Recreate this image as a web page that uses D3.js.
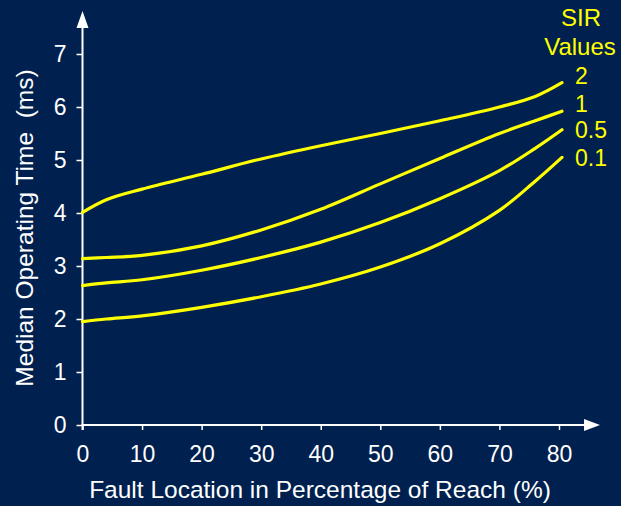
<!DOCTYPE html>
<html>
<head>
<meta charset="utf-8">
<script src="https://cdn.jsdelivr.net/npm/d3@7"></script>
<style>
  html, body { margin: 0; padding: 0; background: #00214f; }
  svg { display: block; }
  text { font-family: "Liberation Sans", Arial, sans-serif; }
</style>
</head>
<body>
<svg id="chart" width="621" height="506"></svg>
<script>
// ---- data ----
const faultLocation = [0, 4, 10, 20, 30, 40, 50, 60, 70, 76, 80.5];
const sir2  = [4.01, 4.25, 4.45, 4.73, 5.02, 5.27, 5.50, 5.74, 6.00, 6.20, 6.46];
const sir1  = [3.14, 3.16, 3.20, 3.38, 3.68, 4.07, 4.55, 5.03, 5.50, 5.74, 5.92];
const sir05 = [2.63, 2.68, 2.74, 2.92, 3.16, 3.45, 3.82, 4.27, 4.80, 5.22, 5.57];
const sir01 = [1.95, 2.00, 2.06, 2.22, 2.42, 2.66, 2.98, 3.42, 4.05, 4.60, 5.05];
const seriesNames = ["2", "1", "0.5", "0.1"];
const xTicks = [0, 10, 20, 30, 40, 50, 60, 70, 80];
const yTicks = [0, 1, 2, 3, 4, 5, 6, 7];
const xLabel = "Fault Location in Percentage of Reach (%)";
const yLabel = "Median Operating Time\u00a0 (ms)";
const legendTitle = ["SIR", "Values"];

// ---- layout ----
const svg = d3.select("#chart");
const W = 621, H = 506;
svg.append("rect").attr("width", W).attr("height", H).attr("fill", "#00214f");

const x = d3.scaleLinear().domain([0, 80]).range([82.5, 559]);
const y = d3.scaleLinear().domain([0, 7]).range([425, 54]);
const white = "#ffffff", yellow = "#ffff00";
const fontFam = '"Liberation Sans", Arial, sans-serif';

// axes
const xAxis = d3.axisBottom(x).tickValues(xTicks).tickSize(5).tickPadding(16).tickFormat(d3.format("d"));
const yAxis = d3.axisLeft(y).tickValues(yTicks).tickSize(6).tickPadding(10).tickFormat(d3.format("d"));

const gx = svg.append("g").attr("transform", `translate(0,${y(0)})`).call(xAxis);
const gy = svg.append("g").attr("transform", `translate(${x(0)},0)`).call(yAxis);

[gx, gy].forEach(g => {
  g.select(".domain").remove();
  g.selectAll(".tick line").attr("stroke", white).attr("stroke-width", 1.5);
  g.selectAll(".tick text").attr("fill", white).attr("font-size", 23)
    .attr("font-family", fontFam);
});

// axis lines with arrows
svg.append("line").attr("x1", x(0) - 1).attr("x2", 586).attr("y1", y(0)).attr("y2", y(0))
  .attr("stroke", white).attr("stroke-width", 2);
svg.append("path").attr("d", `M600,${y(0)} L584,${y(0) - 6} L584,${y(0) + 6} Z`).attr("fill", white);

svg.append("line").attr("x1", x(0)).attr("x2", x(0)).attr("y1", y(0) + 5).attr("y2", 26)
  .attr("stroke", white).attr("stroke-width", 2);
svg.append("path").attr("d", `M${x(0)},11 L${x(0) - 6},28 L${x(0) + 6},28 Z`).attr("fill", white);

// labels
svg.append("text").attr("x", 320).attr("y", 498).attr("text-anchor", "middle")
  .attr("fill", white).attr("font-size", 24.5).attr("font-family", fontFam).text(xLabel);
svg.append("text").attr("transform", "translate(33,228) rotate(-90)").attr("text-anchor", "middle")
  .attr("fill", white).attr("font-size", 24.5).attr("font-family", fontFam).text(yLabel);

// curves
const allSeries = [sir2, sir1, sir05, sir01];
const line = d3.line().x(d => x(d[0])).y(d => y(d[1])).curve(d3.curveCatmullRom.alpha(0.5));
allSeries.forEach(vals => {
  svg.append("path")
    .datum(faultLocation.map((f, i) => [f, vals[i]]))
    .attr("d", line)
    .attr("fill", "none").attr("stroke", yellow).attr("stroke-width", 3.2)
    .attr("stroke-linecap", "round");
});

// legend
svg.append("text").attr("x", 581).attr("y", 26).attr("text-anchor", "middle")
  .attr("fill", yellow).attr("font-size", 24).attr("font-family", fontFam).text(legendTitle[0]);
svg.append("text").attr("x", 580).attr("y", 55).attr("text-anchor", "middle")
  .attr("fill", yellow).attr("font-size", 24).attr("font-family", fontFam).text(legendTitle[1]);
const legendBaselines = [84, 112, 138, 166];
seriesNames.forEach((n, i) => {
  svg.append("text").attr("x", 575).attr("y", legendBaselines[i])
    .attr("fill", yellow).attr("font-size", 23).attr("font-family", fontFam).text(n);
});
</script>
</body>
</html>
